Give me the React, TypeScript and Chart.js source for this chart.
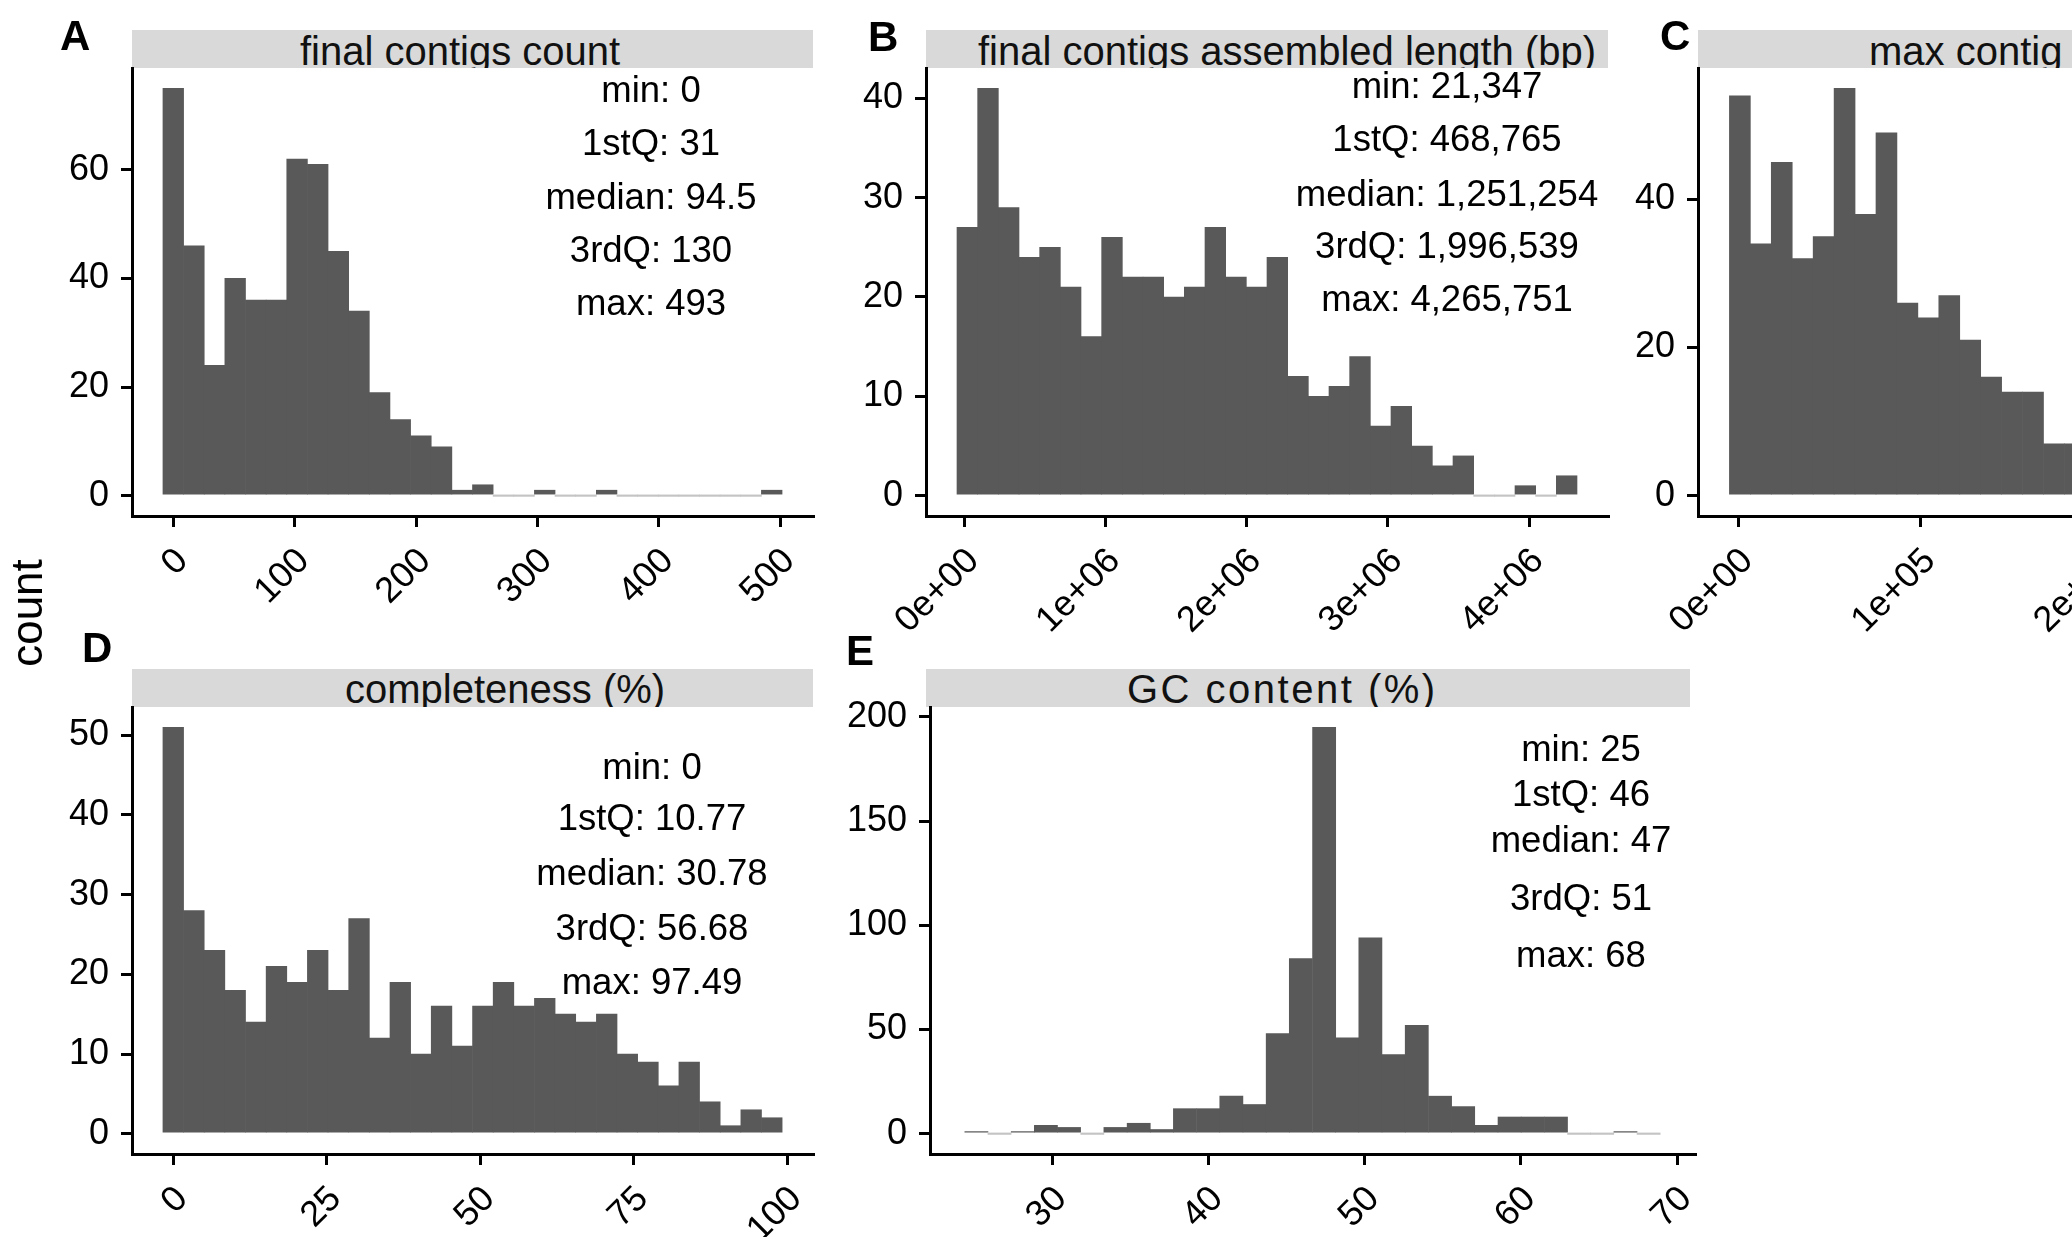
import React, { useEffect, useRef } from "react";
import { Chart, registerables } from "chart.js";

Chart.register(...registerables);

const FONT = '"Liberation Sans", Arial, Helvetica, sans-serif';
const BAR = "#595959";
const ZERO = "#c4c4c4";
const STRIP = "#d9d9d9";

// ---------- Panel A: final contigs count ----------
const aBins = [0, 17, 34, 51, 68, 85, 102, 119, 136, 153, 170, 187, 204, 221, 238, 255, 272, 289, 306, 323, 340, 357, 374, 391, 408, 425, 442, 459, 476, 493];
const aCounts = [75, 46, 24, 40, 36, 36, 62, 61, 45, 34, 19, 14, 11, 9, 1, 2, 0, 0, 1, 0, 0, 1, 0, 0, 0, 0, 0, 0, 0, 1];
const aXTicks = [0, 100, 200, 300, 400, 500];
const aXLabels = ["0", "100", "200", "300", "400", "500"];
const aYTicks = [0, 20, 40, 60];
const aStats = ["min: 0", "1stQ: 31", "median: 94.5", "3rdQ: 130", "max: 493"];

// ---------- Panel B: final contigs assembled length (bp) ----------
const bBins = [21347, 167706, 314065, 460424, 606783, 753142, 899501, 1045860, 1192219, 1338578, 1484937, 1631296, 1777655, 1924014, 2070373, 2216732, 2363091, 2509450, 2655809, 2802168, 2948527, 3094886, 3241245, 3387604, 3533963, 3680322, 3826681, 3973040, 4119399, 4265751];
const bCounts = [27, 41, 29, 24, 25, 21, 16, 26, 22, 22, 20, 21, 27, 22, 21, 24, 12, 10, 11, 14, 7, 9, 5, 3, 4, 0, 0, 1, 0, 2];
const bXTicks = [0, 1000000, 2000000, 3000000, 4000000];
const bXLabels = ["0e+00", "1e+06", "2e+06", "3e+06", "4e+06"];
const bYTicks = [0, 10, 20, 30, 40];
const bStats = ["min: 21,347", "1stQ: 468,765", "median: 1,251,254", "3rdQ: 1,996,539", "max: 4,265,751"];

// ---------- Panel C: max contig length (bp) (cut off at the right edge) ----------
const cBins = [754, 12240, 23726, 35212, 46698, 58184, 69670, 81156, 92642, 104128, 115614, 127100, 138586, 150072, 161558, 173044, 184530, 196016, 207502, 218988, 230474, 241960, 253446, 264932, 276418, 287904, 299390, 310876, 322362, 333848];
const cCounts = [54, 34, 45, 32, 35, 55, 38, 49, 26, 24, 27, 21, 16, 14, 14, 7, 7, 5, 4, 3, 3, 2, 2, 1, 1, 1, 0, 1, 0, 1];
const cXTicks = [0, 100000, 200000, 300000];
const cXLabels = ["0e+00", "1e+05", "2e+05", "3e+05"];
const cYTicks = [0, 20, 40];

// ---------- Panel D: completeness (%) ----------
const dBins = [0, 3.36, 6.72, 10.09, 13.45, 16.81, 20.17, 23.53, 26.89, 30.26, 33.62, 36.98, 40.34, 43.7, 47.06, 50.43, 53.79, 57.15, 60.51, 63.87, 67.23, 70.6, 73.96, 77.32, 80.68, 84.04, 87.4, 90.77, 94.13, 97.49];
const dCounts = [51, 28, 23, 18, 14, 21, 19, 23, 18, 27, 12, 19, 10, 16, 11, 16, 19, 16, 17, 15, 14, 15, 10, 9, 6, 9, 4, 1, 3, 2];
const dXTicks = [0, 25, 50, 75, 100];
const dXLabels = ["0", "25", "50", "75", "100"];
const dYTicks = [0, 10, 20, 30, 40, 50];
const dStats = ["min: 0", "1stQ: 10.77", "median: 30.78", "3rdQ: 56.68", "max: 97.49"];

// ---------- Panel E: GC content (%) ----------
const eBins = [25.15, 26.63, 28.12, 29.6, 31.08, 32.57, 34.05, 35.54, 37.02, 38.5, 39.99, 41.47, 42.96, 44.44, 45.92, 47.41, 48.89, 50.37, 51.86, 53.34, 54.83, 56.31, 57.79, 59.28, 60.76, 62.25, 63.73, 65.21, 66.7, 68.18];
const eCounts = [1, 0, 1, 4, 3, 0, 3, 5, 2, 12, 12, 18, 14, 48, 84, 195, 46, 94, 38, 52, 18, 13, 4, 8, 8, 8, 0, 0, 1, 0];
const eXTicks = [30, 40, 50, 60, 70];
const eXLabels = ["30", "40", "50", "60", "70"];
const eYTicks = [0, 50, 100, 150, 200];
const eStats = ["min: 25", "1stQ: 46", "median: 47", "3rdQ: 51", "max: 68"];

const PL = 140;
const PT = 12;
const PR = 40;
const PB = 170;

type HistProps = {
  L: number; T: number; R: number; B: number;
  bins: number[]; counts: number[];
  xMin: number; xMax: number; yMin: number; yMax: number;
  xTicks: number[]; xLabels: string[]; yTicks: number[];
};

function Hist(p: HistProps) {
  const ref = useRef<HTMLCanvasElement>(null);
  const w = Math.round(p.R - p.L) + PL + PR;
  const h = Math.round(p.B - p.T) + PT + PB;
  useEffect(() => {
    const tickFont = { family: FONT, size: 36 };
    const grid = { display: true, drawOnChartArea: false, drawTicks: true, tickLength: 11, color: "#000", lineWidth: 3, offset: false };
    const border = { display: true, color: "#000", width: 3 };
    const chart = new Chart(ref.current as HTMLCanvasElement, {
      type: "bar",
      data: {
        datasets: [
          {
            data: p.bins.map((x, i) => ({ x, y: p.counts[i] })),
            backgroundColor: p.counts.map((c) => (c === 0 ? ZERO : BAR)),
            borderWidth: 0,
            barPercentage: 1,
            categoryPercentage: 1,
            minBarLength: 1.5,
          } as any,
        ],
      },
      options: {
        responsive: false,
        animation: false,
        devicePixelRatio: 1,
        layout: { padding: { left: 0, top: PT, right: PR, bottom: 0 } },
        plugins: { legend: { display: false }, tooltip: { enabled: false } },
        events: [],
        scales: {
          x: {
            type: "linear",
            offset: false,
            min: p.xMin,
            max: p.xMax,
            afterBuildTicks: (s: any) => {
              s.ticks = p.xTicks.map((v) => ({ value: v }));
            },
            afterFit: (s: any) => {
              s.height = PB;
              s.paddingLeft = 0;
              s.paddingRight = 0;
            },
            ticks: {
              autoSkip: false,
              minRotation: 45,
              maxRotation: 45,
              padding: 13,
              labelOffset: 9,
              color: "#000",
              font: tickFont,
              callback: (_v: any, i: number) => p.xLabels[i],
            },
            grid,
            border,
          } as any,
          y: {
            type: "linear",
            min: p.yMin,
            max: p.yMax,
            afterBuildTicks: (s: any) => {
              s.ticks = p.yTicks.map((v) => ({ value: v }));
            },
            afterFit: (s: any) => {
              s.width = PL;
              s.paddingTop = 0;
              s.paddingBottom = 0;
            },
            ticks: {
              autoSkip: false,
              padding: 12,
              color: "#000",
              font: tickFont,
              callback: (v: any) => String(v),
            },
            grid,
            border,
          } as any,
        },
      },
    });
    return () => chart.destroy();
  }, []);
  return (
    <canvas
      ref={ref}
      width={w}
      height={h}
      style={{ position: "absolute", left: Math.round(p.L) - PL, top: Math.round(p.T) - PT, width: w, height: h }}
    />
  );
}

function Strip(props: { L: number; R: number; T: number; B: number; text: string; textLeft: number; base: number; size?: number; spacing?: number }) {
  const fs = props.size ?? 40;
  return (
    <div
      style={{
        position: "absolute",
        left: props.L,
        top: props.T,
        width: props.R - props.L,
        height: props.B - props.T,
        background: STRIP,
        overflow: "hidden",
      }}
    >
      <div
        style={{
          position: "absolute",
          left: props.textLeft - props.L,
          top: props.base - props.T - 0.8465 * fs,
          fontFamily: FONT,
          fontSize: fs,
          lineHeight: `${fs}px`,
          whiteSpace: "nowrap",
          color: "#111",
          letterSpacing: props.spacing ?? 0,
        }}
      >
        {props.text}
      </div>
    </div>
  );
}

function Stats(props: { lines: string[]; cx: number; ys: number[] }) {
  const fs = 36.5;
  return (
    <>
      {props.lines.map((t, i) => (
        <div
          key={i}
          style={{
            position: "absolute",
            left: props.cx - 200,
            width: 400,
            textAlign: "center",
            top: props.ys[i] - fs / 2,
            fontFamily: FONT,
            fontSize: fs,
            lineHeight: `${fs}px`,
            color: "#000",
            whiteSpace: "nowrap",
          }}
        >
          {t}
        </div>
      ))}
    </>
  );
}

function Letter(props: { t: string; x: number; y: number }) {
  return (
    <div
      style={{
        position: "absolute",
        left: props.x,
        top: props.y,
        fontFamily: FONT,
        fontWeight: "bold",
        fontSize: 42,
        lineHeight: "42px",
        color: "#000",
      }}
    >
      {props.t}
    </div>
  );
}

export default function App() {
  return (
    <div
      style={{
        position: "fixed",
        left: 0,
        top: 0,
        width: 2072,
        height: 1237,
        overflow: "hidden",
        background: "#fff",
      }}
    >
      {/* Row 1 */}
      <Strip L={132} R={813} T={30} B={68} text="final contigs count" textLeft={300} base={65} />
      <Strip L={925.6} R={1608} T={30} B={68} text="final contigs assembled length (bp)" textLeft={978} base={65} />
      <Strip L={1698} R={2389} T={30} B={68} text="max contig length (bp)" textLeft={1869} base={65} />
      <Hist L={132} T={68} R={813} B={516} bins={aBins} counts={aCounts} xMin={-34} xMax={527} yMin={-3.75} yMax={78.75} xTicks={aXTicks} xLabels={aXLabels} yTicks={aYTicks} />
      <Hist L={926} T={68} R={1608} B={516} bins={bBins} counts={bCounts} xMin={-271371} xMax={4558469} yMin={-2.05} yMax={43.05} xTicks={bXTicks} xLabels={bXLabels} yTicks={bYTicks} />
      <Hist L={1698} T={68} R={2389} B={516} bins={cBins} counts={cCounts} xMin={-22218} xMax={356820} yMin={-2.75} yMax={57.75} xTicks={cXTicks} xLabels={cXLabels} yTicks={cYTicks} />
      <Stats lines={aStats} cx={651} ys={[90, 143, 197, 250, 303.5]} />
      <Stats lines={bStats} cx={1447} ys={[86, 139, 194, 246.5, 299.5]} />

      {/* Row 2 */}
      <Strip L={132} R={813} T={669} B={707} text="completeness (%)" textLeft={345} base={703} />
      <Strip L={926} R={1690} T={669} B={707} text="GC content (%)" textLeft={1127} base={703} spacing={2.5} />
      <Hist L={132} T={707} R={813} B={1154} bins={dBins} counts={dCounts} xMin={-6.72} xMax={104.2} yMin={-2.55} yMax={53.55} xTicks={dXTicks} xLabels={dXLabels} yTicks={dYTicks} />
      <Hist L={930} T={707} R={1695} B={1154} bins={eBins} counts={eCounts} xMin={22.18} xMax={71.15} yMin={-9.75} yMax={204.75} xTicks={eXTicks} xLabels={eXLabels} yTicks={eYTicks} />
      <Stats lines={dStats} cx={652} ys={[767.5, 818.5, 873, 928, 982]} />
      <Stats lines={eStats} cx={1581} ys={[749.5, 794, 840.4, 898, 955]} />

      {/* Panel letters */}
      <Letter t="A" x={60} y={15} />
      <Letter t="B" x={868} y={16} />
      <Letter t="C" x={1660} y={15} />
      <Letter t="D" x={82} y={627} />
      <Letter t="E" x={846} y={630} />

      {/* Shared y-axis title */}
      <div style={{ position: "absolute", left: 26.5, top: 612.5, width: 0, height: 0 }}>
        <div
          style={{
            position: "absolute",
            left: 0,
            top: 0,
            transform: "translate(-50%, -50%) rotate(-90deg)",
            fontFamily: FONT,
            fontSize: 44,
            lineHeight: "44px",
            color: "#000",
            whiteSpace: "nowrap",
          }}
        >
          count
        </div>
      </div>
    </div>
  );
}
